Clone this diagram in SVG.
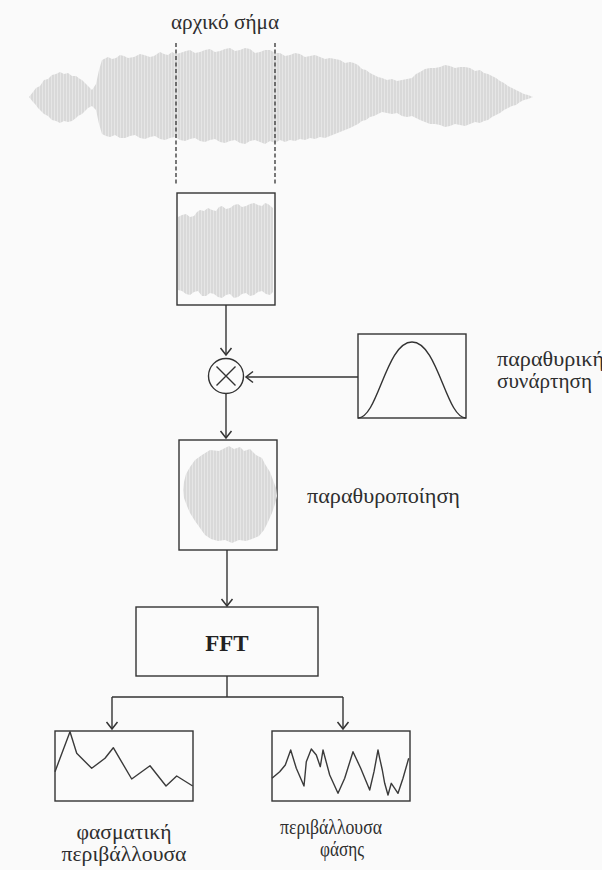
<svg xmlns="http://www.w3.org/2000/svg" width="602" height="870" viewBox="0 0 602 870">
  <style>
    .ln { fill: none; stroke: #333; stroke-width: 1.4; }
    .box { fill: #fbfbfb; stroke: #333; stroke-width: 1.4; }
    .plot { fill: none; stroke: #3a3a3a; stroke-width: 1.4; stroke-linejoin: round; }
    .lbl { font-family: "Liberation Serif", "DejaVu Serif", serif; font-size: 20px; fill: #2e2e2e; }
    .fft { font-family: "Liberation Serif", "DejaVu Serif", serif; font-size: 23px; font-weight: bold; fill: #222; }
    .wave { fill: url(#hatch); }
    .cut { fill: none; stroke: #333; stroke-width: 1.3; stroke-dasharray: 4 2.5; }
  </style>
  <defs>
    <!-- light grey fill with thin vertical stripes for the sampled signal -->
    <pattern id="hatch" width="3" height="8" patternUnits="userSpaceOnUse">
      <rect width="3" height="8" fill="#d9d9d9"/>
      <rect width="1" height="8" fill="#e6e6e6"/>
    </pattern>
    <!-- open chevron arrowhead -->
    <marker id="arr" viewBox="-9 -7 11 14" markerWidth="11" markerHeight="14" refX="0" refY="0" orient="auto" markerUnits="userSpaceOnUse">
      <path d="M-7,-5.5 L0,0 L-7,5.5" fill="none" stroke="#333" stroke-width="1.5"/>
    </marker>
  </defs>

  <rect width="602" height="870" fill="#fafafa"/>

  <!-- original signal -->
  <g id="signal">
    <text class="lbl" x="225" y="29" text-anchor="middle" textLength="108" lengthAdjust="spacingAndGlyphs">αρχικό σήμα</text>
    <polygon class="wave" points="29,97 33,92 36,88 40,86 44,80 48,79 52,75 56,74 60,72 64,74 68,73 72,76 76,76 80,79 82,80 86,84 88,86 92,90 96,84 99,70 102,60 108,57 112,59 116,58 120,55 124,56 128,58 134,57 140,54 144,55 150,57 154,56 160,52 164,54 168,55 172,52 176,54 180,53 186,51 190,50 195,53 200,52 205,50 210,49 215,52 220,51 225,49 230,48 235,51 240,50 245,48 250,49 255,53 260,52 265,50 270,50 275,53 280,53 285,56 290,55 295,53 300,54 305,57 310,56 315,55 320,57 325,59 330,58 335,59 340,60 345,63 350,62 354,63 358,65 362,69 366,70 370,73 374,75 378,77 382,78 387,80 392,79 397,81 402,80 407,79 412,78 416,74 420,72 425,69 430,68 435,68 440,67 445,65 450,66 455,68 460,67 465,67 470,68 475,71 480,70 484,73 488,74 492,76 496,78 500,81 504,83 508,86 512,88 516,90 520,92 524,94 528,95 533,97 528,99 524,100 520,102 516,105 512,106 508,108 504,110 500,113 496,115 492,117 488,120 484,121 480,123 475,122 470,124 465,126 460,125 455,124 450,126 445,127 440,125 435,124 430,124 425,122 420,120 416,118 412,116 407,117 402,116 397,113 392,114 387,113 382,112 378,114 374,116 370,117 366,120 362,121 358,124 354,126 350,128 345,130 340,132 335,134 330,136 325,138 320,137 315,139 310,138 305,140 300,139 295,141 290,140 285,142 280,140 275,143 270,141 265,144 260,142 255,140 250,141 245,144 240,143 235,140 230,141 225,143 220,142 215,139 210,140 205,142 200,141 195,138 190,139 185,141 180,140 175,137 170,138 165,140 160,139 155,136 150,137 145,139 140,138 135,135 130,136 125,138 120,138 115,135 110,137 106,136 102,134 99,124 96,110 92,106 88,108 84,112 82,114 78,116 76,118 72,121 68,122 64,121 60,123 56,121 52,120 48,116 44,114 40,110 38,108 35,104 33,102"/>
    <line class="cut" x1="176" y1="43" x2="176" y2="185"/>
    <line class="cut" x1="275" y1="43" x2="275" y2="185"/>
  </g>

  <!-- selected segment -->
  <g id="segment">
    <rect class="box" x="177" y="193" width="98" height="112"/>
    <polygon class="wave" points="178,217 182,215 186,214 190,217 194,216 197,212 200,210 204,211 208,208 212,210 216,211 219,207 222,206 226,209 230,208 234,205 238,204 242,207 246,206 250,204 254,203 258,205 262,206 265,203 268,204 273,208 273,292 270,295 266,294 262,291 258,292 254,295 250,296 246,293 242,294 238,297 234,298 230,294 226,295 222,298 218,297 214,294 210,293 206,296 202,296 198,291 194,292 190,295 186,294 182,291 178,290"/>
  </g>

  <!-- multiplier -->
  <g id="multiply">
    <circle cx="226" cy="376" r="17.5" fill="#fbfbfb" stroke="#333" stroke-width="1.4"/>
    <path class="ln" d="M216.5,366.5 L235.5,385.5 M235.5,366.5 L216.5,385.5"/>
  </g>

  <!-- window function -->
  <g id="window-fn">
    <rect class="box" x="358" y="334" width="108" height="84"/>
    <path class="ln" d="M358,418 C378,418 386,342 412,342 S446,418 466,418"/>
    <text class="lbl" x="497" y="366" textLength="107" lengthAdjust="spacingAndGlyphs">παραθυρική</text>
    <text class="lbl" x="497" y="388" textLength="95" lengthAdjust="spacingAndGlyphs">συνάρτηση</text>
  </g>

  <!-- windowed segment -->
  <g id="windowed">
    <rect class="box" x="179" y="440" width="98" height="110"/>
    <path class="wave" d="M229,446 L234,449 L240,447 L244,451 L250,449 L256,455 L262,458 L265,464 L270,472 L273,480 L276,488 L277,496 L275,504 L272,513 L268,522 L264,530 L259,536 L252,539 L246,541 L239,540 L232,543 L225,540 L218,541 L211,539 L205,535 L200,528 L195,521 L190,513 L187,506 L184,498 L183,490 L184,482 L186,474 L190,467 L195,460 L202,455 L210,450 L219,451 Z"/>
    <text class="lbl" x="307" y="503" textLength="153" lengthAdjust="spacingAndGlyphs">παραθυροποίηση</text>
  </g>

  <!-- FFT block -->
  <g id="fft">
    <rect class="box" x="136" y="607" width="182" height="69"/>
    <text class="fft" x="227" y="651" text-anchor="middle">FFT</text>
  </g>

  <!-- spectral envelope -->
  <g id="spectral">
    <rect class="box" x="55" y="731" width="138" height="70"/>
    <polyline class="plot" points="55,771.7 70,731.7 76.7,753.3 91.7,768.3 105,758.3 113.3,747.7 131.7,779 150,765.7 166,786 176.7,776 192.7,786"/>
    <text class="lbl" x="124" y="839" text-anchor="middle" textLength="95" lengthAdjust="spacingAndGlyphs">φασματική</text>
    <text class="lbl" x="124" y="861" text-anchor="middle" textLength="125" lengthAdjust="spacingAndGlyphs">περιβάλλουσα</text>
  </g>

  <!-- phase envelope -->
  <g id="phase">
    <rect class="box" x="272" y="731" width="138" height="70"/>
    <polyline class="plot" points="272,778.3 279.7,771.7 285.3,765 290.7,750 296.3,768.3 304,786 306.3,761.7 311.3,749 316.3,755 320.3,766.7 323,750 329.7,775 338,793.3 344.7,778.3 353,751.7 360.7,768.3 369.7,790 374,771.7 378,750 379.7,758.3 382.3,770 384.7,783.3 388,795 391.3,783.3 394.7,788.3 398,793.3 403,778.3 408.7,758.3"/>
    <text class="lbl" x="331" y="834" text-anchor="middle" textLength="102" lengthAdjust="spacingAndGlyphs">περιβάλλουσα</text>
    <text class="lbl" x="342" y="856" text-anchor="middle" textLength="44" lengthAdjust="spacingAndGlyphs">φάσης</text>
  </g>

  <!-- connectors -->
  <g id="connectors">
    <path class="ln" d="M226,305 L226,355" marker-end="url(#arr)"/>
    <path class="ln" d="M226,394 L226,438" marker-end="url(#arr)"/>
    <path class="ln" d="M358,377 L246,377" marker-end="url(#arr)"/>
    <path class="ln" d="M227,550 L227,606" marker-end="url(#arr)"/>
    <path class="ln" d="M227,676 L227,697 M112,697 L343,697"/>
    <path class="ln" d="M112,697 L112,729" marker-end="url(#arr)"/>
    <path class="ln" d="M343,697 L343,729" marker-end="url(#arr)"/>
  </g>
</svg>
